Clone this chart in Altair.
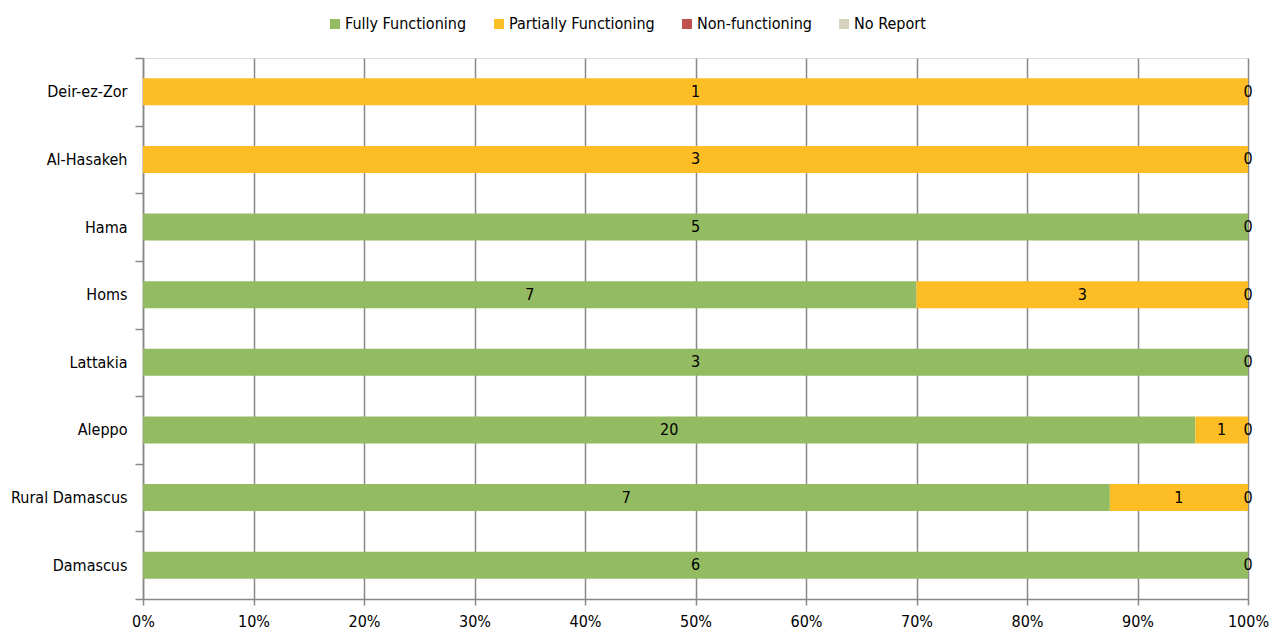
import altair as alt
import pandas as pd

regions = ["Deir-ez-Zor", "Al-Hasakeh", "Hama", "Homs", "Lattakia", "Aleppo", "Rural Damascus", "Damascus"]
fully = [0, 0, 5, 7, 3, 20, 7, 6]
partially = [1, 3, 0, 3, 0, 1, 1, 0]
non_functioning = [0, 0, 0, 0, 0, 0, 0, 0]
no_report = [0, 0, 0, 0, 0, 0, 0, 0]

series = ["Fully Functioning", "Partially Functioning", "Non-functioning", "No Report"]
colors = ["#93BB62", "#FDBD25", "#C0504D", "#D4D2BD"]

rows = []
for i, r in enumerate(regions):
    for j, (s, vals) in enumerate(zip(series, [fully, partially, non_functioning, no_report])):
        rows.append({"region": r, "status": s, "count": vals[i], "order": j})
df = pd.DataFrame(rows)

FONT = "DejaVu Sans Condensed"
FS = 16

base = alt.Chart(df).transform_stack(
    stack="count", groupby=["region"], as_=["x0", "x1"], offset="normalize",
    sort=[alt.SortField("order", order="ascending")]
).transform_calculate(mid="(datum.x0 + datum.x1) / 2")

yenc = alt.Y("region:N", sort=regions, title=None,
             scale=alt.Scale(paddingInner=0, paddingOuter=0),
             axis=alt.Axis(tickBand="extent", labelFontSize=FS, labelFont=FONT, labelColor="#000000",
                           domainColor="#888888", tickColor="#888888", tickSize=8, labelPadding=8,
                           domainWidth=1.5, tickWidth=1.5))

bars = base.mark_bar(height=alt.RelativeBandSize(0.4)).encode(
    x=alt.X("x0:Q", title=None,
            scale=alt.Scale(domain=[0, 1], nice=False),
            axis=alt.Axis(format="%", values=[i / 10 for i in range(11)], labelFontSize=FS, labelFont=FONT,
                          labelColor="#000000", grid=True, gridColor="#888888", gridWidth=1.5,
                          domainColor="#888888", tickColor="#888888", tickSize=6, labelPadding=8,
                          labelFlush=False, domainWidth=1.5, tickWidth=1.5)),
    x2="x1:Q",
    y=yenc,
    color=alt.Color("status:N", sort=series,
                    scale=alt.Scale(domain=series, range=colors),
                    legend=alt.Legend(title=None, orient="none", legendX=184, legendY=-42, direction="horizontal",
                                      symbolType="square", symbolSize=100, symbolStrokeWidth=0,
                                      labelFontSize=FS, labelFont=FONT, labelColor="#000000",
                                      columnPadding=24, symbolOffset=0, labelOffset=2)),
    order=alt.Order("order:Q"),
)

labels = base.transform_filter(
    "datum.count > 0 || datum.status == 'No Report'"
).mark_text(fontSize=FS, font=FONT, color="#000000").encode(
    x="mid:Q",
    y=alt.Y("region:N", sort=regions),
    text="count:Q",
)

chart = alt.layer(bars, labels).properties(
    width=1105, height=541
).configure_view(stroke=None).configure(padding={"left": 2, "top": 8, "right": 4, "bottom": 0})

chart.save("out.html", embed_options={"renderer": "svg", "actions": False})
